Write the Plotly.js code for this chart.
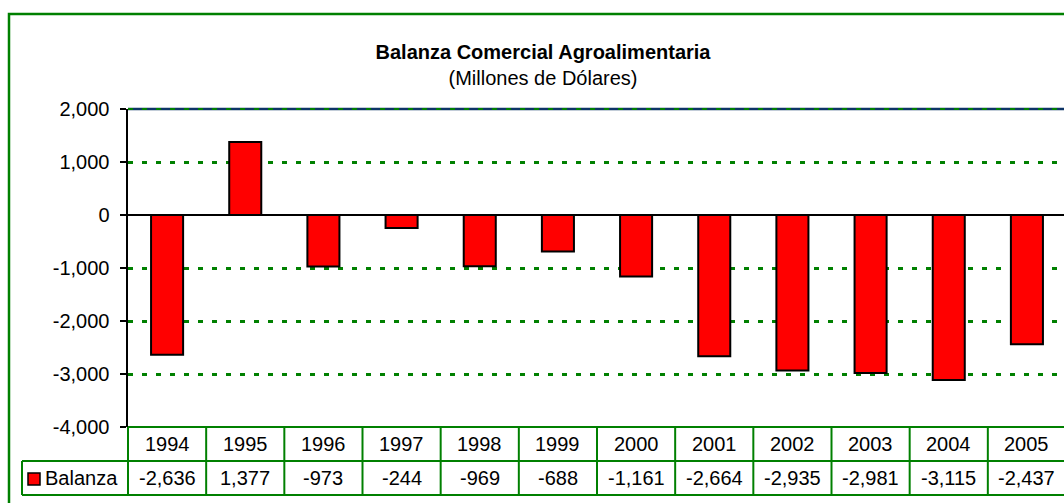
<!DOCTYPE html>
<html>
<head>
<meta charset="utf-8">
<script src="https://cdn.plot.ly/plotly-3.0.1.min.js"></script>
<style>
html, body { margin: 0; padding: 0; overflow: hidden; background: #fff; }
#chart { width: 1080px; height: 503px; }
</style>
</head>
<body>
<div id="chart"></div>
<script>
// ---- data ----
const years = ['1994','1995','1996','1997','1998','1999','2000','2001','2002','2003','2004','2005'];
const balanza = [-2636, 1377, -973, -244, -969, -688, -1161, -2664, -2935, -2981, -3115, -2437];
const seriesName = 'Balanza';
const yTicks = [-4000, -3000, -2000, -1000, 0, 1000, 2000];
const titleText = 'Balanza Comercial Agroalimentaria';
const subtitleText = '(Millones de Dólares)';

// ---- layout helpers ----
const FONT = 'Liberation Sans, Arial, sans-serif';
const FS = 20;
const GREEN = '#008000';
const W = 1080, H = 503;
const mL = 128, mR = 14, mT = 109, mB = 76;
const plotW = W - mL - mR, plotH = H - mT - mB;
const px2py = p => (H - mB - p) / plotH;   // pixel y -> paper y
const px2px = p => (p - mL) / plotW;       // pixel x -> paper x

const fmt = v => v.toLocaleString('en-US');

const rowMid1 = px2py(444), rowMid2 = px2py(478);
const rowLine1 = px2py(461), rowLine2 = px2py(495);
const legLeft = px2px(22);

const shapes = [];
// plot-area top border (navy) below grid, with green dashes on top
shapes.push({type:'line', xref:'paper', yref:'paper', x0:0, x1:1, y0:1, y1:1,
  line:{color:'#0d3466', width:2.5}, layer:'below'});
shapes.push({type:'line', xref:'paper', yref:'paper', x0:0, x1:1, y0:1, y1:1,
  line:{color:GREEN, width:2, dash:'5px,9px'}, layer:'above'});
// outer chart frame
shapes.push({type:'rect', xref:'paper', yref:'paper', x0:px2px(9), x1:1.2, y0:-0.5, y1:px2py(14),
  line:{color:GREEN, width:2.5}, fillcolor:'rgba(0,0,0,0)'});
// data table horizontal lines
shapes.push({type:'line', xref:'paper', yref:'paper', x0:0, x1:1.2, y0:0, y1:0, line:{color:GREEN, width:2}});
shapes.push({type:'line', xref:'paper', yref:'paper', x0:legLeft, x1:1.2, y0:rowLine1, y1:rowLine1, line:{color:GREEN, width:2}});
shapes.push({type:'line', xref:'paper', yref:'paper', x0:legLeft, x1:1.2, y0:rowLine2, y1:rowLine2, line:{color:GREEN, width:2}});
// left boundaries
shapes.push({type:'line', xref:'paper', yref:'paper', x0:0, x1:0, y0:rowLine2, y1:0, line:{color:GREEN, width:2}});
shapes.push({type:'line', xref:'paper', yref:'paper', x0:legLeft, x1:legLeft, y0:rowLine2, y1:rowLine1, line:{color:GREEN, width:2}});
// category boundaries
for (let i = 0; i < years.length; i++) {
  shapes.push({type:'line', xref:'x', yref:'paper', x0:i+0.5, x1:i+0.5, y0:rowLine2, y1:0,
    line:{color:GREEN, width:2}});
}
// legend key
shapes.push({type:'rect', xref:'paper', yref:'paper', x0:px2px(28), x1:px2px(40), y0:px2py(485), y1:px2py(473),
  line:{color:'#000', width:1.5}, fillcolor:'#ff0000'});

const annotations = [];
years.forEach((yr, i) => {
  annotations.push({xref:'x', yref:'paper', x:i, y:rowMid1, text:yr, showarrow:false,
    xanchor:'center', yanchor:'middle', font:{family:FONT, size:FS, color:'#000'}});
  annotations.push({xref:'x', yref:'paper', x:i, y:rowMid2, text:fmt(balanza[i]), showarrow:false,
    xanchor:'center', yanchor:'middle', font:{family:FONT, size:FS, color:'#000'}});
});
annotations.push({xref:'paper', yref:'paper', x:px2px(43), y:rowMid2, text:seriesName, showarrow:false,
  xanchor:'left', yanchor:'middle', font:{family:FONT, size:FS, color:'#000'}});

const data = [{
  type:'bar', x:years, y:balanza, name:seriesName,
  marker:{color:'#ff0000', line:{color:'#000', width:2}},
  hoverinfo:'x+y'
}];

const layout = {
  width:W, height:H,
  margin:{l:mL, r:mR, t:mT, b:mB, pad:0},
  paper_bgcolor:'#fff', plot_bgcolor:'#fff',
  showlegend:false,
  font:{family:FONT, size:FS, color:'#000'},
  title:{
    text:'<b>' + titleText + '</b><br>' + subtitleText,
    xref:'container', x:543/W, xanchor:'center',
    yref:'container', y:1 - 59/H, yanchor:'top',
    font:{family:FONT, size:20, color:'#000'}
  },
  bargap:0.59,
  xaxis:{
    type:'category', range:[-0.5, years.length - 0.5],
    showticklabels:false, ticks:'', showline:false, showgrid:false, zeroline:false, fixedrange:true
  },
  yaxis:{
    range:[yTicks[0], yTicks[yTicks.length-1]],
    tickvals:yTicks, ticktext:yTicks.map(fmt),
    ticks:'outside', ticklen:6, tickwidth:2, tickcolor:'#000',
    ticklabelstandoff:6,
    showline:true, linecolor:'#000', linewidth:2.5,
    showgrid:true, gridcolor:GREEN, gridwidth:3, griddash:'5px,9px',
    zeroline:true, zerolinecolor:'#000', zerolinewidth:2,
    tickfont:{family:FONT, size:FS, color:'#000'},
    fixedrange:true
  },
  shapes:shapes,
  annotations:annotations
};

Plotly.newPlot('chart', data, layout, {displayModeBar:false, staticPlot:true});
</script>
</body>
</html>
